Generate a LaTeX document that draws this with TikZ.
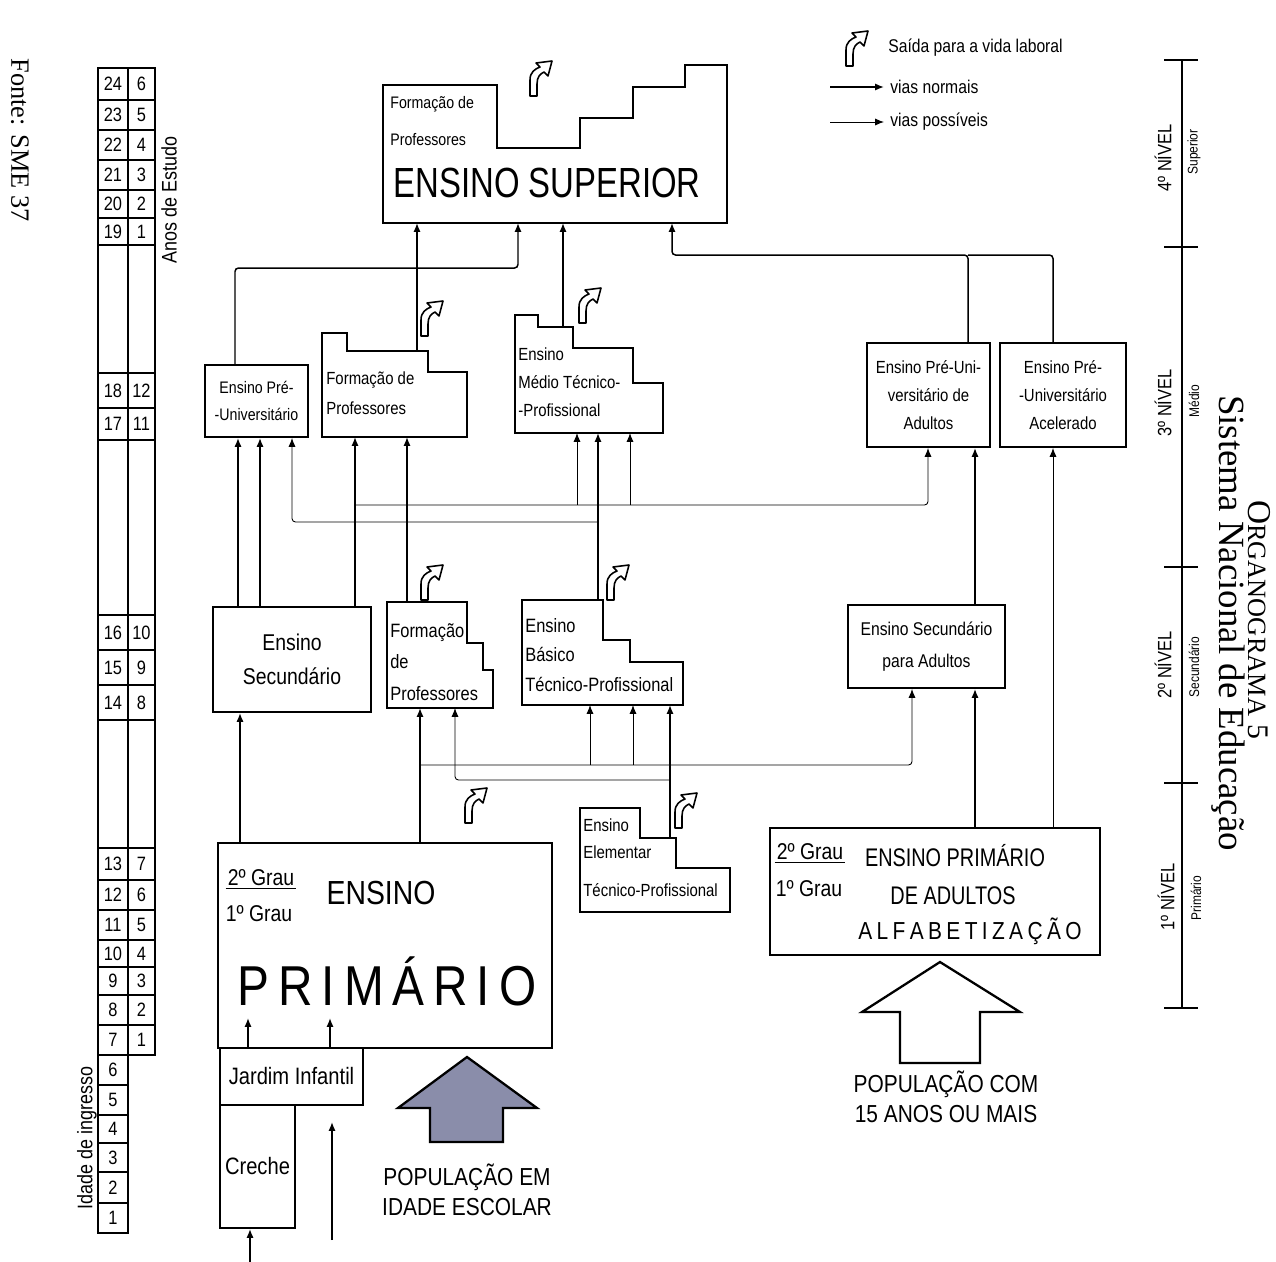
\documentclass[tikz,border=0pt]{standalone}
\usepackage{fontspec}
\setmainfont{Liberation Sans}[FakeStretch=0.85]
\newfontfamily\narrowfont{Liberation Sans}[FakeStretch=0.78]
\newfontfamily\seriffont{Liberation Serif}
\usetikzlibrary{arrows.meta}
\definecolor{popfill}{HTML}{8A8DAA}
\newlength\upx
\setlength\upx{0.02cm}

\begin{document}
\begin{tikzpicture}[
  x=0.02cm, y=-0.02cm,
  >={Latex[length=5pt,width=4pt]},
  font=\fontsize{10}{15}\selectfont,
  box/.style={draw, line width=1.1pt, inner sep=0pt, align=center},
  stepbox/.style={draw, line width=1.1pt},
  txt/.style={inner sep=0pt, align=left, anchor=west},
  vianormal/.style={line width=0.85pt, rounded corners=2pt},
  viaposs/.style={line width=0.5pt, rounded corners=2pt},
  grade/.style={line width=0.8pt},
  idade/.style={inner sep=0pt, font=\fontsize{11}{11}\selectfont},
  nivel/.style={rotate=90, inner sep=0pt, font=\fontsize{11}{11}\selectfont},
  subnivel/.style={rotate=90, inner sep=0pt, font=\fontsize{8}{8}\selectfont},
  seta/.style={line width=1.3pt, line join=miter},
  saida/.pic={
    \draw[line width=0.9pt, fill=white, line join=round]
      (-11,18) -- (-11,2) .. controls (-11,-6) and (-6,-9) .. (-1,-11)
      -- (-5,-15) -- (11,-17) -- (7,-2) -- (3,-6)
      .. controls (-1,-4) and (-4,-1) .. (-4,6) -- (-4,18) -- cycle;
  },
]
\useasboundingbox (0,0) rectangle (1276,1262);

% --- quadro de idades / anos de estudo ---
\draw[grade] (98,68) rectangle (155,1055);
\draw[grade] (128,68) -- (128,1055);
\draw[grade] (98,1055) rectangle (128,1233);
\foreach \yb in {100,130,160,190,218,245,373,408,440,615,650,685,720,848,880,910,940,967,995,1025}
  \draw[grade] (98,\yb) -- (155,\yb);
\foreach \yb in {1085,1115,1143,1172,1203}
  \draw[grade] (98,\yb) -- (128,\yb);
\foreach \a/\b/\yc in {24/6/84,23/5/115,22/4/145,21/3/175,20/2/204,19/1/231.5,
    18/12/390.5,17/11/424,16/10/632.5,15/9/667.5,14/8/702.5,13/7/864,12/6/895,
    11/5/925,10/4/953.5,9/3/981,8/2/1010,7/1/1040}{
  \node[idade] (ia\a) at (113,\yc) {\a};
  \node[idade] (ib\a) at (141.5,\yc) {\b};
}
\foreach \a/\yc in {6/1070,5/1100,4/1129,3/1157.5,2/1187.5,1/1218}
  \node[idade] (ic\a) at (113,\yc) {\a};
\node[rotate=90, font=\fontsize{12}{12}\selectfont] (anos) at (169,200) {Anos de Estudo};
\node[rotate=90, font=\fontsize{12}{12}\selectfont] (ingresso) at (87,1138) {Idade de ingresso};
\node[rotate=-90, font=\seriffont\fontsize{15}{15}\selectfont] (fonte) at (20,140) {Fonte: SME 37};

% --- 4o nivel: ensino superior ---
\draw[stepbox, line width=1.4pt] (383,85) -- (497,85) -- (497,148) -- (580,148) -- (580,118)
  -- (633,118) -- (633,87) -- (685,87) -- (685,65) -- (727,65) -- (727,223) -- (383,223) -- cycle;
\coordinate (supS) at (555,223);
\node[txt, font=\fontsize{9.5}{21}\selectfont] (supfp) at (390,121) {Formação de\\Professores};
\node[inner sep=0pt, font=\narrowfont\fontsize{24}{24}\selectfont] (suptit) at (547,183) {ENSINO SUPERIOR};
\pic at (541,78) {saida};

% --- 3o nivel ---
\node[box, minimum width=103\upx, minimum height=72\upx, font=\fontsize{9.5}{15}\selectfont]
  (preu) at (256.5,401) {Ensino Pré-\\-Universitário};
\draw[stepbox] (322,333) -- (347,333) -- (347,351) -- (428,351) -- (428,372) -- (467,372)
  -- (467,437) -- (322,437) -- cycle;
\coordinate (fp3N) at (388,351);
\coordinate (fp3S) at (394,437);
\node[txt, font=\fontsize{10}{17}\selectfont] (fp3) at (326,393) {Formação de\\Professores};
\pic at (432,318) {saida};
\draw[stepbox] (515,315) -- (538,315) -- (538,327) -- (573,327) -- (573,348) -- (633,348)
  -- (633,383) -- (663,383) -- (663,433) -- (515,433) -- cycle;
\coordinate (mtN) at (555,327);
\coordinate (mtS) at (589,433);
\node[txt, font=\fontsize{10}{16}\selectfont] (mt) at (518,382) {Ensino\\Médio Técnico-\\-Profissional};
\pic at (590,305) {saida};
\node[box, minimum width=123\upx, minimum height=104\upx, font=\fontsize{10}{16}\selectfont]
  (pua) at (928.5,395) {Ensino Pré-Uni-\\versitário de\\Adultos};
\node[box, minimum width=126\upx, minimum height=104\upx, font=\fontsize{10}{16}\selectfont]
  (acel) at (1063,395) {Ensino Pré-\\-Universitário\\Acelerado};

% --- 2o nivel ---
\node[box, minimum width=158\upx, minimum height=105\upx, font=\fontsize{13}{19}\selectfont]
  (sec) at (292,659.5) {Ensino\\Secundário};
\draw[stepbox] (387,602) -- (467,602) -- (467,643) -- (483,643) -- (483,670) -- (493,670)
  -- (493,708) -- (387,708) -- cycle;
\coordinate (fp2N) at (427,602);
\coordinate (fp2S) at (440,708);
\node[txt, font=\fontsize{11}{18}\selectfont] (fp2) at (390,662) {Formação\\de\\Professores};
\pic at (432,582) {saida};
\draw[stepbox] (522,600) -- (603,600) -- (603,640) -- (630,640) -- (630,662) -- (683,662)
  -- (683,705) -- (522,705) -- cycle;
\coordinate (bsN) at (560,600);
\coordinate (bsS) at (600,705);
\node[txt, font=\fontsize{11}{17}\selectfont] (bs) at (525,655) {Ensino\\Básico\\Técnico-Profissional};
\pic at (618,582) {saida};
\node[box, minimum width=157\upx, minimum height=83\upx, font=\fontsize{10.5}{18}\selectfont]
  (sesa) at (926.5,646.5) {Ensino Secundário\\para Adultos};

% --- 1o nivel ---
\node[box, line width=1.3pt, minimum width=334\upx, minimum height=205\upx] (prim) at (385,945.5) {};
\coordinate (primIn) at (300,1018);
\node[inner sep=1pt, font=\fontsize{13}{13}\selectfont] (g2p) at (261,878) {2º Grau};
\draw[line width=0.8pt] (g2p.south west) -- (g2p.south east);
\node[inner sep=1pt, font=\fontsize{13}{13}\selectfont] (g1p) at (259,914) {1º Grau};
\node[inner sep=0pt, font=\fontsize{19}{19}\selectfont] (ensp) at (381,893) {ENSINO};
\node[inner sep=0pt, font=\fontsize{32}{32}\selectfont] (primt) at (387,981)
  {\makebox[170pt][s]{P\hfill R\hfill I\hfill M\hfill Á\hfill R\hfill I\hfill O}};
\pic at (476,805) {saida};
\draw[stepbox] (580,808) -- (640,808) -- (640,838) -- (676,838) -- (676,868) -- (730,868)
  -- (730,912) -- (580,912) -- cycle;
\coordinate (elN) at (658,838);
\node[txt, font=\fontsize{10}{15}\selectfont] (el) at (583,858) {Ensino\\Elementar\\[7pt]Técnico-Profissional};
\pic at (686,810) {saida};
\node[box, line width=1.3pt, minimum width=330\upx, minimum height=127\upx] (pra) at (935,891.5) {};
\node[inner sep=1pt, font=\fontsize{13}{13}\selectfont] (g2a) at (810,852) {2º Grau};
\draw[line width=0.8pt] (g2a.south west) -- (g2a.south east);
\node[inner sep=1pt, font=\fontsize{13}{13}\selectfont] (g1a) at (809,889) {1º Grau};
\node[inner sep=0pt, font=\narrowfont\fontsize{14.5}{15}\selectfont] (epa) at (955,856) {ENSINO PRIMÁRIO};
\node[inner sep=0pt, font=\narrowfont\fontsize{14.5}{15}\selectfont] (dea) at (953,896) {DE ADULTOS};
\node[inner sep=0pt, font=\fontsize{14}{14}\selectfont] (alf) at (970,931)
  {\makebox[127pt][s]{A\hfill L\hfill F\hfill A\hfill B\hfill E\hfill T\hfill I\hfill Z\hfill A\hfill Ç\hfill Ã\hfill O}};

% --- educacao pre-escolar ---
\node[box, minimum width=143\upx, minimum height=57\upx, font=\fontsize{13.5}{14}\selectfont]
  (jard) at (291.5,1076.5) {Jardim Infantil};
\node[box, minimum width=75\upx, minimum height=123\upx, font=\fontsize{13.5}{14}\selectfont]
  (cre) at (257.5,1166.5) {Creche};

% --- populacao ---
\draw[seta, fill=popfill] (467,1057) -- (537,1108) -- (503,1108) -- (503,1142) -- (430,1142)
  -- (430,1108) -- (398,1108) -- cycle;
\node[align=center, font=\fontsize{14}{17}\selectfont] (popesc) at (467,1190) {POPULAÇÃO EM\\IDADE ESCOLAR};
\draw[seta, fill=white] (940,962) -- (1020,1012) -- (980,1012) -- (980,1063) -- (900,1063)
  -- (900,1012) -- (862,1012) -- cycle;
\node[align=center, font=\fontsize{14}{17}\selectfont] (pop15) at (946,1097) {POPULAÇÃO COM\\15 ANOS OU MAIS};

% --- vias ---
\coordinate (j4a) at (518,268);
\coordinate (j4b) at (672,255);
\coordinate (j3a) at (355,505);
\coordinate (j3b) at (598,522);
\coordinate (j2a) at (420,765);
\coordinate (j2b) at (670,780);
\coordinate (baseA) at (250,1262);
\coordinate (popA) at (332,1240);
\coordinate (popB) at (332,1122);

\draw[vianormal,->] (preu.north -| 235,0) |- (j4a) -- (supS -| j4a);
\draw[vianormal,->] (fp3N -| 417,0) -- (supS -| 417,0);
\draw[vianormal,->] (mtN -| 563,0) -- (supS -| 563,0);
\draw[vianormal,->] (pua.north -| 968,0) |- (j4b) -- (supS -| j4b);
\draw[vianormal] (acel.north -| 1053,0) |- (j4b -| 968,0);

\draw[vianormal,->] (sec.north -| 238,0) -- (preu.south -| 238,0);
\draw[vianormal,->] (sec.north -| 260,0) -- (preu.south -| 260,0);
\draw[vianormal,->] (sec.north -| j3a) -- (fp3S -| j3a);
\draw[viaposs,->] (j3a) -| (pua.south -| 928,0);
\draw[viaposs,->] (j3a -| 577,0) -- (mtS -| 577,0);
\draw[viaposs,->] (j3a -| 630,0) -- (mtS -| 630,0);
\draw[vianormal,->] (fp2N -| 407,0) -- (fp3S -| 407,0);
\draw[vianormal,->] (bsN -| j3b) -- (mtS -| j3b);
\draw[viaposs,->] (j3b) -| (preu.south -| 292,0);
\draw[vianormal,->] (sesa.north -| 975,0) -- (pua.south -| 975,0);
\draw[viaposs,->] (pra.north -| 1053,0) -- (acel.south -| 1053,0);

\draw[vianormal,->] (prim.north -| 240,0) -- (sec.south -| 240,0);
\draw[vianormal,->] (prim.north -| j2a) -- (fp2S -| j2a);
\draw[viaposs,->] (j2a) -| (sesa.south -| 912,0);
\draw[viaposs,->] (j2a -| 590,0) -- (bsS -| 590,0);
\draw[viaposs,->] (j2a -| 633,0) -- (bsS -| 633,0);
\draw[vianormal,->] (elN -| j2b) -- (bsS -| j2b);
\draw[viaposs,->] (j2b) -| (fp2S -| 455,0);
\draw[vianormal,->] (pra.north -| 975,0) -- (sesa.south -| 975,0);

\draw[vianormal,->] (jard.north -| 248,0) -- (primIn -| 248,0);
\draw[vianormal,->] (jard.north -| 330,0) -- (primIn -| 330,0);
\draw[vianormal,->] (baseA) -- (cre.south -| baseA);
\draw[vianormal,->] (popA) -- (popB);

% --- legenda ---
\pic at (857,48) {saida};
\node[anchor=west, inner sep=0pt, font=\fontsize{10.5}{11}\selectfont] (lg1) at (888,48) {Saída para a vida laboral};
\coordinate (lgA1) at (830,87);
\coordinate (lgB1) at (884,87);
\coordinate (lgA2) at (830,122);
\coordinate (lgB2) at (884,122);
\draw[vianormal,->] (lgA1) -- (lgB1);
\draw[viaposs,->] (lgA2) -- (lgB2);
\node[anchor=west, inner sep=0pt, font=\fontsize{10.5}{11}\selectfont] (lg2) at (890,87) {vias normais};
\node[anchor=west, inner sep=0pt, font=\fontsize{10.5}{11}\selectfont] (lg3) at (890,122) {vias possíveis};

% --- escala de niveis ---
\coordinate (scT) at (1182,60);
\coordinate (scB) at (1182,1008);
\draw[line width=0.9pt] (scT) -- (scB);
\foreach \t in {60,247,567,783,1008}
  \draw[line width=1.3pt] (scT |- 0,\t) ++(-18,0) -- ++(34,0);
\node[nivel] (n4) at (1163,158) {4º NÍVEL};
\node[subnivel] (s4) at (1194,152) {Superior};
\node[nivel] (n3) at (1163,403) {3º NÍVEL};
\node[subnivel] (s3) at (1194,401) {Médio};
\node[nivel] (n2) at (1163,665) {2º NÍVEL};
\node[subnivel] (s2) at (1194,667) {Secundário};
\node[nivel] (n1) at (1166,897) {1º NÍVEL};
\node[subnivel] (s1) at (1196,898) {Primário};

% --- titulo ---
\node[rotate=-90, inner sep=0pt, font=\seriffont] (orgt) at (1259,620)
  {{\fontsize{19}{19}\selectfont O}{\fontsize{15}{15}\selectfont RGANOGRAMA}\hspace{5pt}{\fontsize{17}{17}\selectfont 5}};
\node[rotate=-90, inner sep=0pt, font=\seriffont\fontsize{21}{21}\selectfont] (orgs) at (1228,623)
  {Sistema Nacional de Educação};
\end{tikzpicture}
\end{document}
